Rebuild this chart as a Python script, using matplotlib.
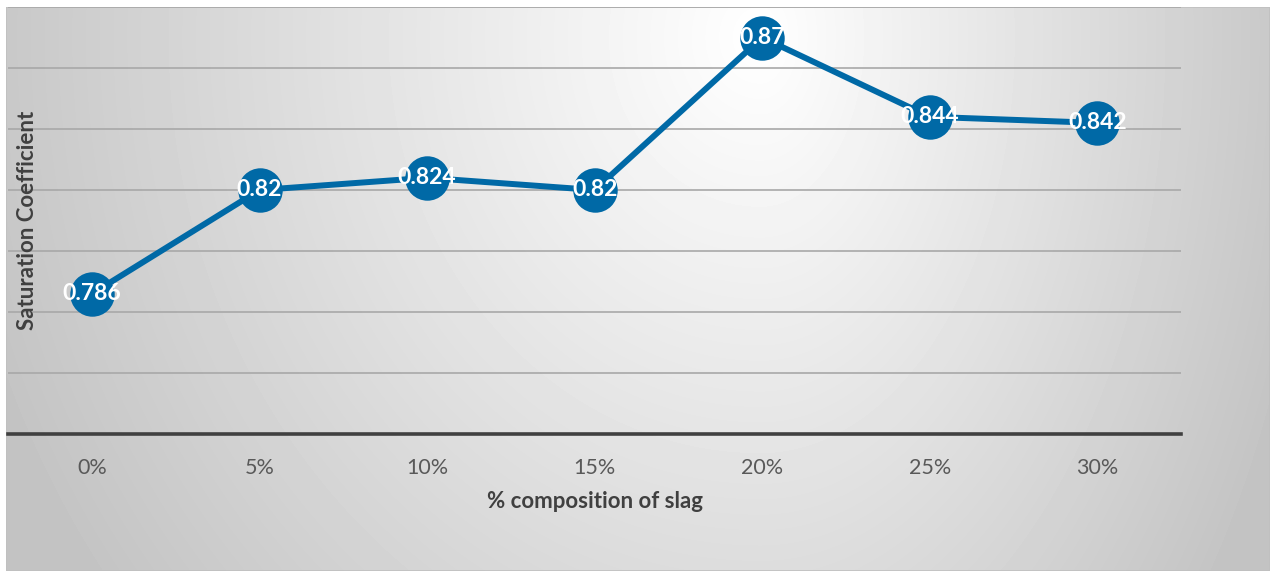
import numpy as np
import matplotlib
matplotlib.use("Agg")
import matplotlib.pyplot as plt

# slag replacement levels and measured saturation coefficient
categories = ["0%", "5%", "10%", "15%", "20%", "25%", "30%"]
saturation = [0.786, 0.82, 0.824, 0.82, 0.87, 0.844, 0.842]
labels = ["0.786", "0.82", "0.824", "0.82", "0.87", "0.844", "0.842"]

W, H = 1270, 574
fig = plt.figure(figsize=(W / 100, H / 100), dpi=100)
fig.patch.set_facecolor("white")

# soft gray background, bright near top centre and darker towards the edges
bg = fig.add_axes([6 / W, 3 / H, (W - 6) / W, (H - 10) / H])
bg.set_axis_off()
gx, gy = np.meshgrid(np.arange(W - 6), np.arange(H - 10))
cx, cy = 754, 30
sx = np.where(gx < cx, 760.0, 520.0)
d = np.sqrt(((gx - cx) / sx) ** 2 + ((gy - cy) / 850.0) ** 2)
val = np.clip(255 - 55 * d, 196, 255) / 255.0
bg.imshow(val, cmap="gray", vmin=0, vmax=1, aspect="auto", interpolation="bilinear")
bg.add_patch(plt.Rectangle((0, 0), 1, 1, transform=bg.transAxes, fill=False,
                           edgecolor="#c0c0c0", lw=1.2))

ax = fig.add_axes([8.25 / W, (H - 434) / H, (1181 - 8.25) / W, (434 - 7) / H])
ax.patch.set_alpha(0)

x = np.arange(len(categories))
ax.set_xlim(-0.5, len(categories) - 0.5)
ax.set_ylim(0.74, 0.88)
ax.set_yticks(np.arange(0.74, 0.8801, 0.02))
ax.yaxis.grid(True, color="#a8a8a8", lw=1.2)
ax.set_axisbelow(True)
ax.tick_params(axis="y", left=False, labelleft=False)
ax.tick_params(axis="x", length=0, pad=17, labelsize=15.5, labelcolor="#595959")
ax.set_xticks(x)
ax.set_xticklabels(categories, fontfamily="Lato")
for s in ["left", "right", "top"]:
    ax.spines[s].set_visible(False)
ax.spines["bottom"].set_color("#404040")
ax.spines["bottom"].set_linewidth(2.6)

ax.plot(x, saturation, color="#0069a6", lw=4.3, marker="o", markersize=32,
        markeredgewidth=0, zorder=3, solid_capstyle="round")
for xi, yi, t in zip(x, saturation, labels):
    ax.text(xi, yi, t, ha="center", va="center", color="white", fontsize=16.5,
            fontweight="bold", fontfamily="Lato", zorder=4)

fig.text(595 / W, 1 - 502 / H, "% composition of slag", ha="center", va="center",
         fontsize=16, fontweight="bold", color="#404040", fontfamily="Lato")
fig.text(28 / W, 1 - 220 / H, "Saturation Coefficient", ha="center", va="center",
         rotation=90, fontsize=16, fontweight="bold", color="#404040", fontfamily="Lato")

fig.savefig("out.png", dpi=100)
